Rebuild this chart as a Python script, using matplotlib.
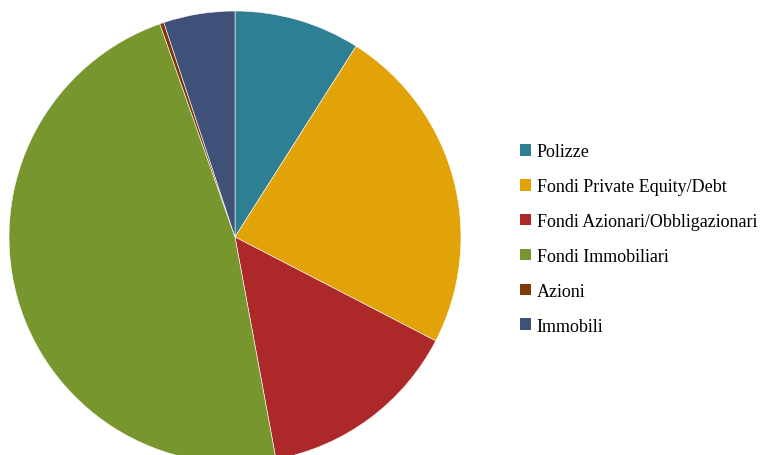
import matplotlib
matplotlib.use("Agg")
import matplotlib.pyplot as plt
from matplotlib.patches import Patch

plt.rcParams["font.family"] = ["Liberation Serif", "DejaVu Serif"]

labels = ["Polizze", "Fondi Private Equity/Debt", "Fondi Azionari/Obbligazionari",
          "Fondi Immobiliari", "Azioni", "Immobili"]
shares = [9.0, 23.6, 14.5, 47.5, 0.3, 5.1]
COLORS = ["#2E7F94", "#E2A308", "#AD2929", "#77972E", "#7F3A06", "#3F5079"]

W, H = 761, 456
fig = plt.figure(figsize=(W / 100, H / 100), dpi=100)

# pie: centre (235, 238) px from top-left, radius 226 px
r = 226
cx, cy = 235, 238
ax = fig.add_axes([(cx - r) / W, (H - cy - r) / H, 2 * r / W, 2 * r / H])
ax.pie(shares, colors=COLORS, startangle=90, counterclock=False, radius=1,
       wedgeprops={"linewidth": 0.4, "edgecolor": "white"})
ax.set_xlim(-1, 1)
ax.set_ylim(-1, 1)
ax.set_aspect("equal")
ax.axis("off")

handles = [Patch(facecolor=c, edgecolor="none") for c in COLORS]
fig.legend(handles, labels, loc="upper left", bbox_to_anchor=(513 / W, 1 - 137 / H),
           frameon=False, fontsize=13, handlelength=0.62, handleheight=0.62,
           handletextpad=0.3, labelspacing=0.99, borderaxespad=0)

fig.savefig("out.png", dpi=100)
